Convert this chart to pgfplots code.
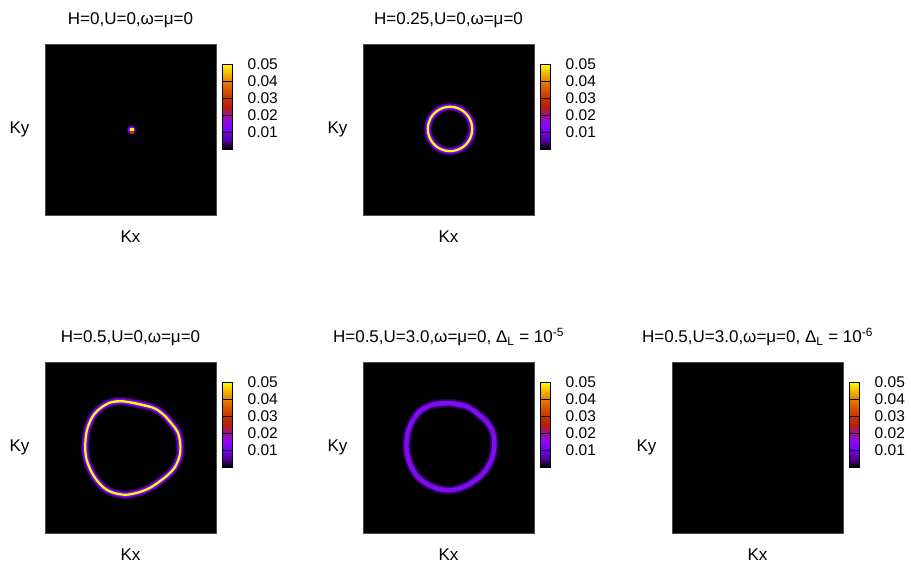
\documentclass[border=0pt]{standalone}
\usepackage{fontspec}
\setmainfont{Liberation Sans}
\usepackage{pgfplots}
\pgfplotsset{compat=1.18}
\usepackage{pgfplotstable}

% gnuplot-like palette (rgbformulae 7,5,15) sampled at ten points
\pgfplotsset{
  colormap={gpfe}{rgb255(0)=(0,0,0) rgb255(1)=(81,0,150) rgb255(2)=(114,2,243)
    rgb255(3)=(140,7,243) rgb255(4)=(161,16,150) rgb255(5)=(180,32,0)
    rgb255(6)=(198,55,0) rgb255(7)=(213,87,0) rgb255(8)=(228,131,0)
    rgb255(9)=(242,186,0) rgb255(10)=(255,255,0)}
}
\definecolor{halo}{RGB}{40,0,75}
\definecolor{violetA}{RGB}{95,0,190}
\definecolor{violetB}{RGB}{128,4,255}
\definecolor{midred}{RGB}{190,40,0}
\definecolor{peak}{RGB}{255,255,0}
\definecolor{bandout}{RGB}{60,0,115}
\definecolor{band}{RGB}{122,14,240}
\definecolor{faint}{RGB}{0,0,0}

% Fermi-surface contours (Kx, Ky), closed by repeating the first points
\pgfplotstableread{
kx ky
0.265 -0.074
0.278 0.006
0.265 0.086
0.228 0.159
0.171 0.216
0.098 0.253
0.018 0.266
-0.062 0.253
-0.135 0.216
-0.192 0.159
-0.229 0.086
-0.242 0.006
-0.229 -0.074
-0.192 -0.147
-0.135 -0.204
-0.062 -0.241
0.018 -0.254
0.098 -0.241
0.171 -0.204
0.228 -0.147
0.265 -0.074
0.278 0.006
0.265 0.086
}\ringHquarter

\pgfplotstableread{
kx ky
-0.220 0.530
-0.064 0.538
0.248 0.471
0.384 0.386
0.482 0.277
0.552 0.179
0.582 0.043
0.575 -0.094
0.520 -0.230
0.442 -0.316
0.345 -0.394
0.228 -0.472
0.091 -0.526
-0.064 -0.553
-0.220 -0.523
-0.318 -0.465
-0.407 -0.366
-0.474 -0.249
-0.520 -0.113
-0.529 0.043
-0.505 0.219
-0.435 0.374
-0.337 0.471
-0.220 0.530
-0.064 0.538
0.248 0.471
}\ringHhalf

\pgfplotstableread{
kx ky
-0.178 0.503
0.018 0.518
0.213 0.480
0.368 0.374
0.466 0.277
0.524 0.160
0.536 0.023
0.512 -0.113
0.447 -0.249
0.349 -0.355
0.213 -0.444
0.056 -0.495
-0.099 -0.488
-0.255 -0.425
-0.372 -0.327
-0.450 -0.191
-0.489 -0.035
-0.482 0.140
-0.430 0.296
-0.333 0.425
-0.178 0.503
0.018 0.518
0.213 0.480
}\ringHU

\pgfplotsset{
  spectral/.style={
    scale only axis, width=171pt, height=171pt,
    xmin=-1, xmax=1, ymin=-1, ymax=1,
    xtick=\empty, ytick=\empty,
    axis background/.style={fill=black},
    axis line style={black!70, line width=0.6pt},
    font=\fontsize{17}{20}\selectfont,
    xlabel=Kx, ylabel=Ky,
    every axis x label/.style={at={(axis description cs:0.5,0)}, anchor=base, yshift=-28pt},
    every axis y label/.style={at={(axis description cs:0,0.5)}, anchor=east, xshift=-12pt},
    every axis title/.style={at={(axis description cs:0.5,1)}, anchor=base, yshift=19pt},
    colormap name=gpfe,
    colorbar, point meta min=0, point meta max=0.05,
    colorbar shift/.style={xshift=6.5pt},
    colorbar style={
      scale only axis, width=10pt, height=85pt,
      at={(parent axis.north east)}, anchor=north west, yshift=-20pt,
      ytick={0.01,0.02,0.03,0.04,0.05},
      yticklabels={0.01,0.02,0.03,0.04,0.05},
      scaled y ticks=false,
      ytick pos=right, yticklabel pos=right,
      tick align=inside, major tick length=10pt,
      tick style={black, line width=0.6pt},
      axis line style={black, line width=0.6pt},
      yticklabel style={font=\fontsize{15.5}{15.5}\selectfont, anchor=west, inner sep=0pt, xshift=15pt},
    },
  },
  glow/.style={smooth, tension=0.55, line join=round},
}

\begin{document}
\begin{tikzpicture}
\useasboundingbox (0,0) rectangle (911pt,569pt);

% H = 0: a single point at the zone centre
\begin{axis}[spectral, at={(45pt,525pt)}, anchor=north west,
  title={H=0,U=0,ω=μ=0}]
  \addplot[only marks, mark=*, mark size=5pt, halo] coordinates {(0.012,-0.006)};
  \addplot[only marks, mark=*, mark size=3.6pt, violetB] coordinates {(0.012,-0.006)};
  \addplot[only marks, mark=square*, mark size=1.7pt, midred] coordinates {(0.012,-0.018)};
  \addplot[only marks, mark=square*, mark size=1.3pt, peak] coordinates {(0.012,0.004)};
\end{axis}

% H = 0.25
\begin{axis}[spectral, at={(363pt,525pt)}, anchor=north west,
  title={H=0.25,U=0,ω=μ=0}]
  \addplot[glow, halo, line width=8.5pt] table {\ringHquarter};
  \addplot[glow, violetA, line width=6.4pt] table {\ringHquarter};
  \addplot[glow, violetB, line width=4.4pt] table {\ringHquarter};
  \addplot[glow, peak, line width=2.2pt] table {\ringHquarter};
\end{axis}

% H = 0.5, U = 0
\begin{axis}[spectral, at={(45pt,207pt)}, anchor=north west,
  title={H=0.5,U=0,ω=μ=0}]
  \addplot[glow, halo, line width=8.5pt] table {\ringHhalf};
  \addplot[glow, violetA, line width=6.4pt] table {\ringHhalf};
  \addplot[glow, violetB, line width=4.4pt] table {\ringHhalf};
  \addplot[glow, peak, line width=2.2pt] table {\ringHhalf};
\end{axis}

% H = 0.5, U = 3.0, Delta_L = 1e-5
\begin{axis}[spectral, at={(363pt,207pt)}, anchor=north west,
  title={H=0.5,U=3.0,ω=μ=0, Δ\textsubscript{L} = 10\textsuperscript{-5}}]
  \addplot[glow, halo, line width=8.5pt] table {\ringHU};
  \addplot[glow, bandout, line width=6.6pt] table {\ringHU};
  \addplot[glow, band, line width=4.4pt] table {\ringHU};
\end{axis}

% H = 0.5, U = 3.0, Delta_L = 1e-6: spectral weight below the colour resolution
\begin{axis}[spectral, at={(672pt,207pt)}, anchor=north west,
  title={H=0.5,U=3.0,ω=μ=0, Δ\textsubscript{L} = 10\textsuperscript{-6}}]
  \addplot[glow, faint, line width=5pt] table {\ringHU};
\end{axis}
\end{tikzpicture}
\end{document}
